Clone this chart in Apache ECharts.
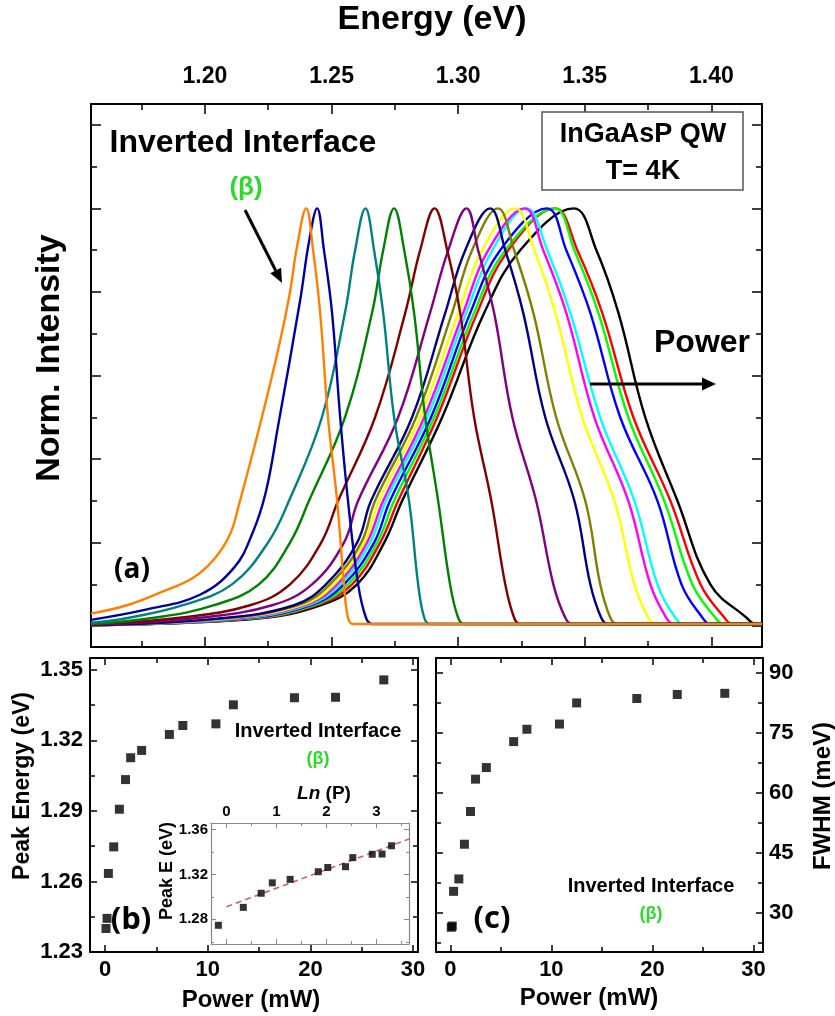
<!DOCTYPE html>
<html>
<head>
<meta charset="utf-8">
<script src="https://cdn.jsdelivr.net/npm/echarts@6/dist/echarts.min.js"></script>
<style>
html,body{margin:0;padding:0;background:#fff}
#chart{width:835px;height:1016px}
</style>
</head>
<body>
<div id="chart"></div>
<script>
// ---------- (a) normalized PL spectra, [energy (eV), norm. intensity], lowest power first ----------
const specOrange = [[1.155,0.03],[1.1692,0.05],[1.1822,0.08],[1.1952,0.115],[1.2036,0.16],[1.2099,0.22],[1.2134,0.29],[1.2225,0.50],[1.2296,0.68],[1.2336,0.80],[1.2364,0.91],[1.2400,1.00],[1.2427,0.90],[1.2455,0.75],[1.2486,0.50],[1.2522,0.30],[1.2549,0.10],[1.2565,0.02],[1.2585,0.005],[1.42,0.005]];
const specRoyal = [[1.155,0.015],[1.1771,0.04],[1.1980,0.075],[1.2115,0.14],[1.2186,0.22],[1.2240,0.32],[1.2289,0.48],[1.2376,0.78],[1.2411,0.92],[1.2443,1.00],[1.2470,0.90],[1.2502,0.75],[1.2534,0.50],[1.2565,0.30],[1.2605,0.10],[1.2636,0.02],[1.2660,0.005],[1.42,0.005]];
const specDarkCyan = [[1.155,0.008],[1.170,0.02],[1.1913,0.05],[1.2107,0.10],[1.2249,0.20],[1.2332,0.30],[1.2462,0.50],[1.2553,0.75],[1.2593,0.90],[1.2634,1.00],[1.2668,0.90],[1.2704,0.75],[1.2747,0.50],[1.2806,0.30],[1.2842,0.10],[1.2866,0.02],[1.2889,0.005],[1.42,0.005]];
const specOlive = [[1.155,0.005],[1.180,0.02],[1.2036,0.05],[1.2213,0.10],[1.2336,0.20],[1.2411,0.30],[1.2553,0.50],[1.2660,0.75],[1.2704,0.90],[1.2747,1.00],[1.2787,0.90],[1.2826,0.75],[1.2870,0.50],[1.2921,0.30],[1.2968,0.10],[1.3000,0.02],[1.3024,0.005],[1.42,0.005]];
const specWine = [[1.155,0.004],[1.190,0.02],[1.2178,0.05],[1.2336,0.10],[1.2459,0.20],[1.2526,0.30],[1.2672,0.50],[1.2791,0.75],[1.2850,0.90],[1.2907,1.00],[1.2957,0.90],[1.3008,0.75],[1.3063,0.50],[1.3131,0.30],[1.3186,0.10],[1.3221,0.02],[1.3245,0.005],[1.42,0.005]];
const specPurple = [[1.155,0.003],[1.198,0.02],[1.2265,0.05],[1.2423,0.10],[1.2549,0.20],[1.2605,0.30],[1.2763,0.50],[1.2889,0.75],[1.2961,0.90],[1.3033,1.00],[1.3079,0.90],[1.3142,0.75],[1.3214,0.50],[1.3308,0.30],[1.3376,0.10],[1.3423,0.02],[1.3451,0.005],[1.42,0.005]];
const specNavy = [[1.155,0.002],[1.205,0.018],[1.2352,0.05],[1.2478,0.10],[1.2601,0.20],[1.2656,0.30],[1.2818,0.50],[1.2949,0.75],[1.3028,0.90],[1.3126,1.00],[1.3186,0.90],[1.3257,0.75],[1.3344,0.50],[1.3459,0.30],[1.3522,0.10],[1.3565,0.02],[1.3593,0.005],[1.42,0.005]];
const specDarkYellow = [[1.155,0.002],[1.207,0.018],[1.2368,0.05],[1.2494,0.10],[1.2617,0.20],[1.2672,0.30],[1.2834,0.50],[1.2976,0.75],[1.3055,0.90],[1.3157,1.00],[1.3221,0.90],[1.3297,0.75],[1.3387,0.50],[1.3502,0.30],[1.3561,0.10],[1.3601,0.02],[1.3629,0.005],[1.42,0.005]];
const specYellow = [[1.155,0.002],[1.209,0.018],[1.2383,0.05],[1.2510,0.10],[1.2629,0.20],[1.2688,0.30],[1.2850,0.50],[1.3000,0.75],[1.3095,0.90],[1.3225,1.00],[1.3301,0.90],[1.3384,0.75],[1.3490,0.50],[1.3617,0.30],[1.3696,0.10],[1.3751,0.02],[1.3783,0.005],[1.42,0.005]];
const specMagenta = [[1.155,0.002],[1.211,0.018],[1.2395,0.05],[1.2522,0.10],[1.2640,0.20],[1.2704,0.30],[1.2866,0.50],[1.3020,0.75],[1.3119,0.90],[1.3263,1.00],[1.3336,0.90],[1.3427,0.75],[1.3538,0.50],[1.3672,0.30],[1.3759,0.10],[1.3822,0.02],[1.3854,0.005],[1.42,0.005]];
const specCyan = [[1.155,0.002],[1.213,0.018],[1.2407,0.05],[1.2534,0.10],[1.2652,0.20],[1.2715,0.30],[1.2878,0.50],[1.3032,0.75],[1.3135,0.90],[1.3270,1.00],[1.3352,0.90],[1.3443,0.75],[1.3561,0.50],[1.3696,0.30],[1.3787,0.10],[1.3858,0.02],[1.3890,0.005],[1.42,0.005]];
const specBlue = [[1.155,0.002],[1.215,0.018],[1.2419,0.05],[1.2549,0.10],[1.2668,0.20],[1.2731,0.30],[1.2893,0.50],[1.3048,0.75],[1.3166,0.90],[1.3351,1.00],[1.3427,0.90],[1.3522,0.75],[1.3640,0.50],[1.3787,0.30],[1.3882,0.10],[1.3965,0.02],[1.3996,0.005],[1.42,0.005]];
const specGreen = [[1.155,0.002],[1.217,0.018],[1.2431,0.05],[1.2565,0.10],[1.2680,0.20],[1.2747,0.30],[1.2905,0.50],[1.3063,0.75],[1.3186,0.90],[1.3381,1.00],[1.3459,0.90],[1.3554,0.75],[1.3672,0.50],[1.3814,0.30],[1.3925,0.10],[1.4016,0.02],[1.4048,0.005],[1.42,0.005]];
const specRed = [[1.155,0.002],[1.219,0.018],[1.2443,0.05],[1.2581,0.10],[1.2692,0.20],[1.2763,0.30],[1.2917,0.50],[1.3075,0.75],[1.3198,0.90],[1.3383,1.00],[1.3471,0.90],[1.3569,0.75],[1.3692,0.50],[1.3838,0.30],[1.3957,0.10],[1.4052,0.02],[1.4083,0.005],[1.42,0.005]];
const specBlack = [[1.155,0.002],[1.221,0.018],[1.2459,0.05],[1.2601,0.10],[1.2708,0.20],[1.2779,0.30],[1.2937,0.50],[1.3103,0.75],[1.3245,0.90],[1.3457,1.00],[1.3546,0.90],[1.3633,0.75],[1.3739,0.50],[1.3866,0.30],[1.3996,0.10],[1.4139,0.02],[1.4174,0.005],[1.42,0.005]];

const spectra = [specOrange, specRoyal, specDarkCyan, specOlive, specWine, specPurple, specNavy,
  specDarkYellow, specYellow, specMagenta, specCyan, specBlue, specGreen, specRed, specBlack];
const spectrumColors = ['#FF8000','#0000A0','#008080','#008000','#800000','#800080','#000080',
  '#808000','#FFFF00','#FF00FF','#00FFFF','#0000FF','#00FF00','#FF0000','#000000'];

// ---------- (b), (c): peak energy and FWHM vs excitation power ----------
const power = [0.1, 0.2, 0.33, 0.85, 1.4, 2.0, 2.5, 3.57, 6.27, 7.58, 10.8, 12.5, 18.45, 22.45, 27.15];   // mW
const peakEnergy = [1.240, 1.2443, 1.2634, 1.2747, 1.2907, 1.3033, 1.3126, 1.3157, 1.3225, 1.3263, 1.3270, 1.3351, 1.3381, 1.3383, 1.3457]; // eV
const fwhm = [26.3, 26.6, 35.3, 38.4, 47.1, 55.3, 63.4, 66.3, 72.8, 75.9, 77.2, 82.5, 83.6, 84.6, 84.9]; // meV
const insetFirst = 3;               // inset shows Ln(P) for these powers onward
const fitIntercept = 1.2913;        // linear fit  E = a + b*Ln(P)
const fitSlope = 0.01655;
const fitRange = [0, 3.65];

// ---------- tick values ----------
const energyTicks = [1.20, 1.25, 1.30, 1.35, 1.40];
const energyMinor = [1.175, 1.225, 1.275, 1.325, 1.375];
const intensityTicks = [0, 0.2, 0.4, 0.6, 0.8, 1.0, 1.2];
const intensityMinor = [0.1, 0.3, 0.5, 0.7, 0.9, 1.1];
const powerTicks = [0, 10, 20, 30];
const powerMinor = [5, 15, 25];
const peakTicks = [1.23, 1.26, 1.29, 1.32, 1.35];
const peakMinor = [1.245, 1.275, 1.305, 1.335];
const fwhmTicks = [30, 45, 60, 75, 90];
const fwhmMinor = [22.5, 37.5, 52.5, 67.5, 82.5];
const lnTicks = [0, 1, 2, 3];
const lnMinor = [0.5, 1.5, 2.5, 3.5];
const insetETicks = [1.28, 1.32, 1.36];
const insetEMinor = [1.26, 1.30, 1.34];

const SANS = '"Liberation Sans", Arial, sans-serif';
const xAxes = [], yAxes = [];

// adds a framed side of a grid: one axis carrying line + major ticks (+labels), one carrying minor ticks
function side(list, grid, position, min, max, majors, minors, o) {
  const base = { type: 'value', gridIndex: grid, position, min, max, splitLine: { show: false } };
  const tickStyle = { color: o.color || '#000', width: o.tickWidth || 1.5 };
  list.push(Object.assign({}, base, {
    axisLine: { show: true, onZero: false, lineStyle: { color: o.color || '#000', width: o.lineWidth || 2 } },
    axisTick: { show: true, inside: true, length: o.major || 9, customValues: majors, lineStyle: tickStyle },
    axisLabel: o.labels ? {
      show: true, customValues: o.labels, formatter: o.fmt, margin: o.margin,
      fontFamily: SANS, fontWeight: 'bold', fontSize: o.fs, color: o.labelColor || '#000'
    } : { show: false }
  }));
  const idx = list.length - 1;
  list.push(Object.assign({}, base, {
    axisLine: { show: false, onZero: false },
    axisTick: { show: true, inside: true, length: o.minor || 5, customValues: minors, lineStyle: tickStyle },
    axisLabel: { show: false }
  }));
  return idx;
}
const f2 = v => v.toFixed(2);
const f0 = v => String(Math.round(v));

// grid 0: spectra
const aX = side(xAxes, 0, 'top', 1.155, 1.42, energyTicks, energyMinor,
  { labels: energyTicks, fmt: f2, fs: 23, margin: 16, major: 10, minor: 6 });
side(xAxes, 0, 'bottom', 1.155, 1.42, energyTicks, energyMinor, { major: 10, minor: 6 });
const aY = side(yAxes, 0, 'left', -0.05, 1.25, intensityTicks, intensityMinor, { major: 10, minor: 6 });
side(yAxes, 0, 'right', -0.05, 1.25, intensityTicks, intensityMinor, { major: 10, minor: 6 });

// grid 1: peak energy vs power
const bX = side(xAxes, 1, 'bottom', -1.46, 30.48, powerTicks, powerMinor,
  { labels: powerTicks, fmt: f0, fs: 22, margin: 7, lineWidth: 2, major: 7, minor: 5 });
side(xAxes, 1, 'top', -1.46, 30.48, powerTicks, powerMinor, { lineWidth: 2, major: 7, minor: 5 });
const bY = side(yAxes, 1, 'left', 1.23, 1.355, peakTicks, peakMinor,
  { labels: peakTicks, fmt: f2, fs: 22, margin: 7, lineWidth: 2, major: 7, minor: 5 });
side(yAxes, 1, 'right', 1.23, 1.355, peakTicks, peakMinor, { lineWidth: 2, major: 7, minor: 5 });

// grid 2: FWHM vs power
const cX = side(xAxes, 2, 'bottom', -1.41, 30.93, powerTicks, powerMinor,
  { labels: powerTicks, fmt: f0, fs: 22, margin: 7, lineWidth: 2, major: 7, minor: 5 });
side(xAxes, 2, 'top', -1.41, 30.93, powerTicks, powerMinor, { lineWidth: 2, major: 7, minor: 5 });
const cY = side(yAxes, 2, 'right', 20.1, 93.75, fwhmTicks, fwhmMinor,
  { labels: fwhmTicks, fmt: f0, fs: 22, margin: 6, lineWidth: 2, major: 7, minor: 5 });
side(yAxes, 2, 'left', 20.1, 93.75, fwhmTicks, fwhmMinor, { lineWidth: 2, major: 7, minor: 5 });

// grid 3: inset, peak energy vs Ln(P); grey frame, black labels
const insetOpts = { color: '#888', labelColor: '#000', lineWidth: 1.2, tickWidth: 1, major: 5, minor: 3 };
const iX = side(xAxes, 3, 'top', -0.31, 3.65, lnTicks, lnMinor,
  Object.assign({ labels: lnTicks, fmt: f0, fs: 15, margin: 4 }, insetOpts));
side(xAxes, 3, 'bottom', -0.31, 3.65, lnTicks, lnMinor, insetOpts);
const iY = side(yAxes, 3, 'left', 1.258, 1.366, insetETicks, insetEMinor,
  Object.assign({ labels: insetETicks, fmt: f2, fs: 15, margin: 3 }, insetOpts));
side(yAxes, 3, 'right', 1.258, 1.366, insetETicks, insetEMinor, insetOpts);

const series = [];
// draw highest power first so the orange trace ends on top
for (let k = spectra.length - 1; k >= 0; k--) {
  series.push({
    type: 'line', xAxisIndex: aX, yAxisIndex: aY, data: spectra[k],
    showSymbol: false, smooth: 0.4,
    lineStyle: { color: spectrumColors[k], width: 2.4 }, z: 2
  });
}
series.push({
  type: 'scatter', xAxisIndex: bX, yAxisIndex: bY, symbol: 'rect', symbolSize: 9,
  itemStyle: { color: '#000' }, data: power.map((p, i) => [p, peakEnergy[i]])
});
series.push({
  type: 'scatter', xAxisIndex: cX, yAxisIndex: cY, symbol: 'rect', symbolSize: 9,
  itemStyle: { color: '#000' }, data: power.map((p, i) => [p, fwhm[i]])
});
series.push({
  type: 'line', xAxisIndex: iX, yAxisIndex: iY, showSymbol: false,
  lineStyle: { color: '#d9534f', width: 1.5, type: [6, 4] },
  data: fitRange.map(l => [l, fitIntercept + fitSlope * l]), z: 2
});
series.push({
  type: 'scatter', xAxisIndex: iX, yAxisIndex: iY, symbol: 'rect', symbolSize: 7,
  itemStyle: { color: '#000' },
  data: power.slice(insetFirst).map((p, i) => [Math.log(p), peakEnergy[insetFirst + i]]), z: 3
});

function txt(text, x, y, size, opts) {
  opts = opts || {};
  return {
    type: 'text', x, y, rotation: opts.rot || 0, z: 10,
    style: {
      text, fill: opts.color || '#000', align: 'center', verticalAlign: 'middle',
      font: 'bold ' + size + 'px ' + (opts.family || SANS)
    }
  };
}
const ROUND = '"Open Sans", "Noto Sans", sans-serif';
const BETA = '#2fd82f';

const graphic = [
  txt('Energy (eV)', 432, 20, 34),
  txt('Norm. Intensity', 50, 358, 34, { rot: Math.PI / 2 }),
  txt('Inverted Interface', 243, 143, 32),
  txt('(\u03b2)', 246, 188, 26, { color: BETA }),
  { type: 'line', z: 10, shape: { x1: 245, y1: 210, x2: 275.7, y2: 270.5 }, style: { stroke: '#000', lineWidth: 3 } },
  { type: 'polygon', z: 10, shape: { points: [[282, 283], [270.3, 273.2], [281.1, 267.8]] }, style: { fill: '#000' } },
  { type: 'rect', z: 9, shape: { x: 542, y: 112, width: 201, height: 78 }, style: { fill: '#fff', stroke: '#555', lineWidth: 1.5 } },
  txt('InGaAsP QW', 643, 135, 27),
  txt('T= 4K', 643, 172, 27),
  txt('Power', 702, 343, 32),
  { type: 'line', z: 10, shape: { x1: 590, y1: 384, x2: 703, y2: 384 }, style: { stroke: '#000', lineWidth: 3 } },
  { type: 'polygon', z: 10, shape: { points: [[716, 384], [702, 377.5], [702, 390.5]] }, style: { fill: '#000' } },
  txt('(a)', 132, 570, 28, { family: ROUND }),

  txt('Peak Energy (eV)', 23, 786, 23, { rot: Math.PI / 2 }),
  txt('Power (mW)', 251, 1000, 24),
  txt('Inverted Interface', 318, 731, 20),
  txt('(\u03b2)', 318, 759, 18, { color: BETA }),
  txt('(b)', 131, 920, 31, { family: ROUND }),

  txt('FWHM (meV)', 823, 796, 24, { rot: Math.PI / 2 }),
  txt('Power (mW)', 589, 998, 24),
  txt('Inverted Interface', 651, 886, 20),
  txt('(\u03b2)', 651, 914, 18, { color: BETA }),
  txt('(c)', 492, 919, 31, { family: ROUND }),

  txt('Peak E (eV)', 167, 871, 18, { rot: Math.PI / 2 }),
  {
    type: 'text', x: 324, y: 794, z: 10,
    style: {
      text: '{it|Ln} (P)', fill: '#000', align: 'center', verticalAlign: 'middle',
      font: 'bold 19px ' + SANS,
      rich: { it: { fontStyle: 'italic', fontWeight: 'bold', fontSize: 19, fontFamily: SANS, fill: '#000' } }
    }
  }
];

const chart = echarts.init(document.getElementById('chart'), null, { renderer: 'canvas' });
chart.setOption({
  animation: false,
  backgroundColor: '#fff',
  grid: [
    { left: 91, top: 104, width: 671, height: 543, outerBoundsMode: 'none' },
    { left: 90, top: 658, width: 328, height: 294, outerBoundsMode: 'none' },
    { left: 436, top: 658, width: 327, height: 294, outerBoundsMode: 'none' },
    { left: 211, top: 823, width: 198, height: 121, outerBoundsMode: 'none' }
  ],
  xAxis: xAxes,
  yAxis: yAxes,
  series,
  graphic
});
</script>
</body>
</html>
